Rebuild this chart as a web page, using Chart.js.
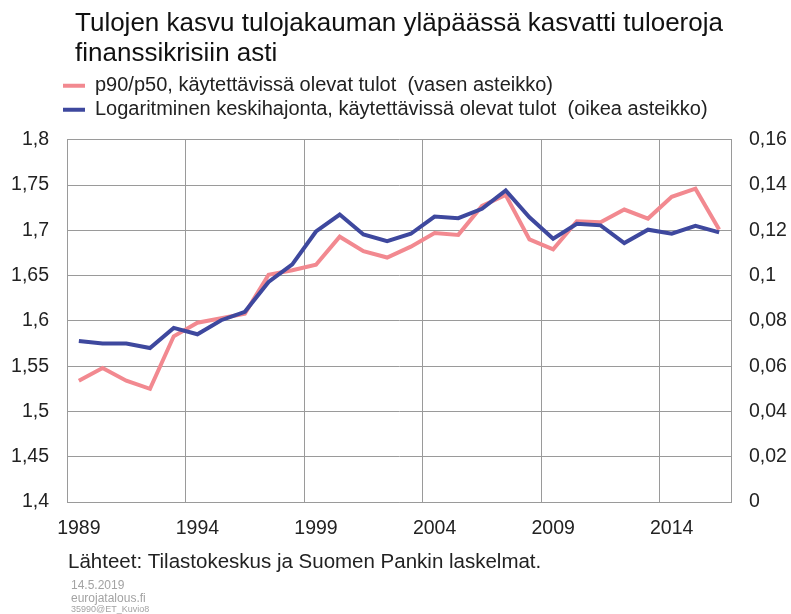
<!DOCTYPE html>
<html lang="fi">
<head>
<meta charset="utf-8">
<title>Tulojen kasvu tulojakauman yläpäässä</title>
<script src="https://cdn.jsdelivr.net/npm/chart.js@4/dist/chart.umd.min.js"></script>
<style>
  html, body { margin: 0; padding: 0; background: #fff; }
  #wrap { position: relative; width: 791px; height: 614px; }
</style>
</head>
<body>
<div id="wrap"><canvas id="chart"></canvas></div>
<script>
// years 1989-2016
const years = [];
for (let y = 1989; y <= 2016; y++) years.push(String(y));

// p90/p50, left axis
const p90p50 = [1.534, 1.548, 1.534, 1.525, 1.583, 1.598, 1.603, 1.608, 1.651, 1.656,
  1.662, 1.693, 1.677, 1.670, 1.682, 1.697, 1.695, 1.727, 1.739, 1.690,
  1.679, 1.710, 1.709, 1.723, 1.713, 1.737, 1.746, 1.701];

// log standard deviation, right axis
const logSd = [0.0711, 0.0700, 0.0700, 0.0680, 0.0769, 0.0741, 0.0803, 0.0840, 0.0972, 0.1050,
  0.1195, 0.1270, 0.1182, 0.1152, 0.1185, 0.1261, 0.1254, 0.1295, 0.1376, 0.1258,
  0.1163, 0.1229, 0.1222, 0.1144, 0.1203, 0.1185, 0.1220, 0.1191];

const titleLines = ['Tulojen kasvu tulojakauman yläpäässä kasvatti tuloeroja', 'finanssikrisiin asti'];
const seriesNames = [
  'p90/p50, käytettävissä olevat tulot  (vasen asteikko)',
  'Logaritminen keskihajonta, käytettävissä olevat tulot  (oikea asteikko)'
];
const sourceText = 'Lähteet: Tilastokeskus ja Suomen Pankin laskelmat.';
const footerLines = ['14.5.2019', 'eurojatalous.fi', '35990@ET_Kuvio8'];

const FONT = "'Liberation Sans', Arial, sans-serif";
const GRID = '#9a9a9a';
const comma = v => String(+v.toFixed(2)).replace('.', ',');

// shifts title/legend to the left edge of the text block, adds gap under the legend
const layoutTweaks = {
  id: 'layoutTweaks',
  afterInit(chart) {
    const lg = chart.legend;
    const fit = lg.fit;
    lg.fit = function () { fit.call(this); this.height += 10; };
  },
  afterLayout(chart) {
    chart.titleBlock.left = 75;
    chart.legend.left = 59;
  }
};

// source line and small grey footer
const footer = {
  id: 'footer',
  afterDraw(chart) {
    const ctx = chart.ctx;
    ctx.save();
    ctx.textAlign = 'left';
    ctx.textBaseline = 'middle';
    ctx.fillStyle = '#222';
    ctx.font = '20.5px ' + FONT;
    ctx.fillText(sourceText, 68, 562);
    ctx.fillStyle = '#a3a3a3';
    ctx.font = '12px ' + FONT;
    ctx.fillText(footerLines[0], 71, 586);
    ctx.fillText(footerLines[1], 71, 599);
    ctx.font = '9px ' + FONT;
    ctx.fillText(footerLines[2], 71, 610);
    ctx.restore();
  }
};

const data = {
  labels: years,
  datasets: [
    {
      label: seriesNames[0],
      data: p90p50,
      yAxisID: 'y',
      borderColor: 'rgb(242,137,144)',
      backgroundColor: 'rgb(242,137,144)',
      borderWidth: 4,
      pointRadius: 0,
      order: 1
    },
    {
      label: seriesNames[1],
      data: logSd,
      yAxisID: 'y1',
      borderColor: 'rgb(62,72,158)',
      backgroundColor: 'rgb(62,72,158)',
      borderWidth: 4,
      pointRadius: 0,
      order: 0
    }
  ]
};

const config = {
  type: 'line',
  data: data,
  plugins: [layoutTweaks, footer],
  options: {
    responsive: true,
    maintainAspectRatio: false,
    animation: false,
    layout: { padding: { top: 0, left: 0, right: 0, bottom: 64 } },
    plugins: {
      tooltip: { enabled: false },
      title: {
        display: true,
        text: titleLines,
        align: 'start',
        color: '#111',
        font: { family: FONT, size: 26, weight: 'normal', lineHeight: 1.15 },
        padding: { top: 9, bottom: 3 }
      },
      legend: {
        display: true,
        align: 'start',
        labels: {
          color: '#222',
          font: { family: FONT, size: 20 },
          usePointStyle: true,
          pointStyle: 'line',
          pointStyleWidth: 22,
          padding: 4,
          sort: (a, b) => a.datasetIndex - b.datasetIndex
        }
      }
    },
    scales: {
      x: {
        offset: true,
        afterFit: s => { s.height = 48; },
        grid: {
          offset: true,
          drawTicks: false,
          color: c => (c.index % 5 === 0 ? GRID : 'rgba(0,0,0,0)')
        },
        border: { color: GRID },
        ticks: {
          autoSkip: false,
          maxRotation: 0,
          padding: 15,
          color: '#222',
          font: { family: FONT, size: 19.5 },
          callback: function (v, i) { return i % 5 === 0 ? this.getLabelForValue(v) : ''; }
        }
      },
      y: {
        position: 'left',
        min: 1.4,
        max: 1.8,
        afterFit: s => { s.width = 67; },
        grid: { color: GRID, drawTicks: false },
        border: { color: GRID },
        ticks: {
          stepSize: 0.05,
          padding: 18,
          color: '#222',
          font: { family: FONT, size: 19.5 },
          callback: v => comma(v)
        }
      },
      y1: {
        position: 'right',
        min: 0,
        max: 0.16,
        afterFit: s => { s.width = 60; },
        grid: { drawOnChartArea: false, drawTicks: false },
        border: { color: GRID },
        ticks: {
          stepSize: 0.02,
          padding: 18,
          color: '#222',
          font: { family: FONT, size: 19.5 },
          callback: v => comma(v)
        }
      }
    }
  }
};

const myChart = new Chart(document.getElementById('chart'), config);
</script>
</body>
</html>
